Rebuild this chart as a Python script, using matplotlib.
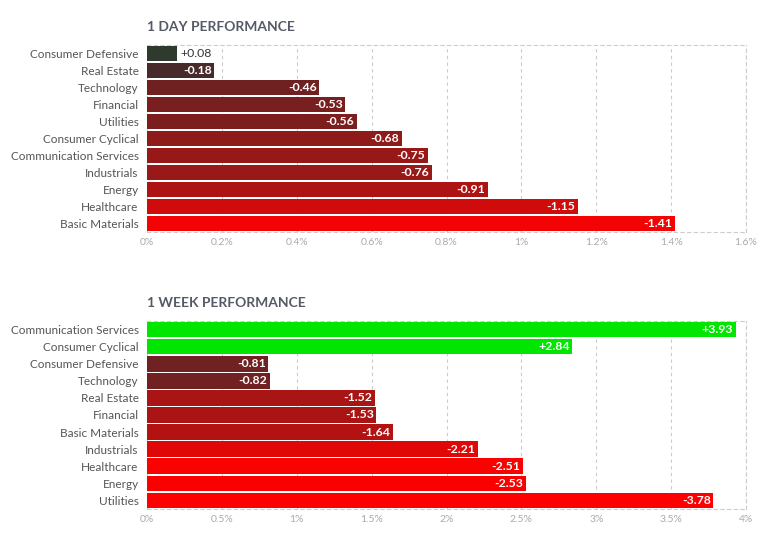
import matplotlib
matplotlib.use("Agg")
import matplotlib.pyplot as plt
from matplotlib.ticker import FuncFormatter

plt.rcParams['font.family'] = ['Lato', 'DejaVu Sans']

# 1 day performance
day_sectors = ["Consumer Defensive", "Real Estate", "Technology", "Financial", "Utilities",
               "Consumer Cyclical", "Communication Services", "Industrials", "Energy",
               "Healthcare", "Basic Materials"]
day_values = [0.08, -0.18, -0.46, -0.53, -0.56, -0.68, -0.75, -0.76, -0.91, -1.15, -1.41]
day_ticks = [0, 0.2, 0.4, 0.6, 0.8, 1.0, 1.2, 1.4, 1.6]

# 1 week performance
week_sectors = ["Communication Services", "Consumer Cyclical", "Consumer Defensive", "Technology",
                "Real Estate", "Financial", "Basic Materials", "Industrials", "Healthcare",
                "Energy", "Utilities"]
week_values = [3.93, 2.84, -0.81, -0.82, -1.52, -1.53, -1.64, -2.21, -2.51, -2.53, -3.78]
week_ticks = [0, 0.5, 1, 1.5, 2, 2.5, 3, 3.5, 4]


def bar_color(v, full):
    # grey -> red / green ramp, like the finviz palette
    t = min(abs(v) / full, 1.0)
    base = (48, 48, 48)
    target = (0, 230, 0) if v > 0 else (255, 0, 0)
    return tuple((b + (c - b) * t) / 255 for b, c in zip(base, target))


def pct(x, pos):
    s = f"{x:.1f}".rstrip('0').rstrip('.')
    return s + "%"


def draw_panel(ax, title, sectors, values, ticks, full):
    y = list(range(len(sectors)))
    lengths = [abs(v) for v in values]
    colors = [bar_color(v, full) for v in values]
    ax.barh(y, lengths, height=0.92, color=colors, zorder=3)
    ax.set_ylim(len(sectors) - 0.5, -0.5)
    ax.set_xlim(ticks[0], ticks[-1])
    ax.set_xticks(ticks)
    ax.xaxis.set_major_formatter(FuncFormatter(pct))
    ax.set_yticks(y)
    ax.set_yticklabels(sectors)
    ax.tick_params(axis='y', length=0, pad=6, labelsize=8.5, labelcolor='#555555')
    ax.tick_params(axis='x', length=0, pad=4, labelsize=7.5, labelcolor='#aaaaaa')
    ax.grid(axis='x', color='#cccccc', linestyle=(0, (3, 3)), linewidth=0.8, zorder=0)
    for side in ['top', 'right', 'bottom']:
        ax.spines[side].set_color('#cccccc')
        ax.spines[side].set_linestyle((0, (3, 3)))
        ax.spines[side].set_linewidth(0.8)
    ax.spines['left'].set_visible(False)

    span = ticks[-1] - ticks[0]
    for yi, v, l in zip(y, values, lengths):
        label = f"{v:+.2f}"
        if l / span < 0.08:
            ax.text(l + span * 0.006, yi, label, va='center', ha='left',
                    fontsize=8.8, color='#333333', zorder=4)
        else:
            ax.text(l - span * 0.004, yi, label, va='center', ha='right',
                    fontsize=8.8, color='white', fontweight='bold', zorder=4)

    ax.text(0, 1.065, title, transform=ax.transAxes, ha='left', va='bottom',
            fontsize=10, fontweight='bold', color='#555a66')


fig = plt.figure(figsize=(7.72, 5.35), dpi=100)
ax1 = fig.add_axes([0.1904, 0.5664, 0.776, 0.3495])
ax2 = fig.add_axes([0.1904, 0.0486, 0.776, 0.3514])

draw_panel(ax1, "1 DAY PERFORMANCE", day_sectors, day_values, day_ticks, 1.5)
draw_panel(ax2, "1 WEEK PERFORMANCE", week_sectors, week_values, week_ticks, 2.6)

fig.savefig("out.png", dpi=100)
